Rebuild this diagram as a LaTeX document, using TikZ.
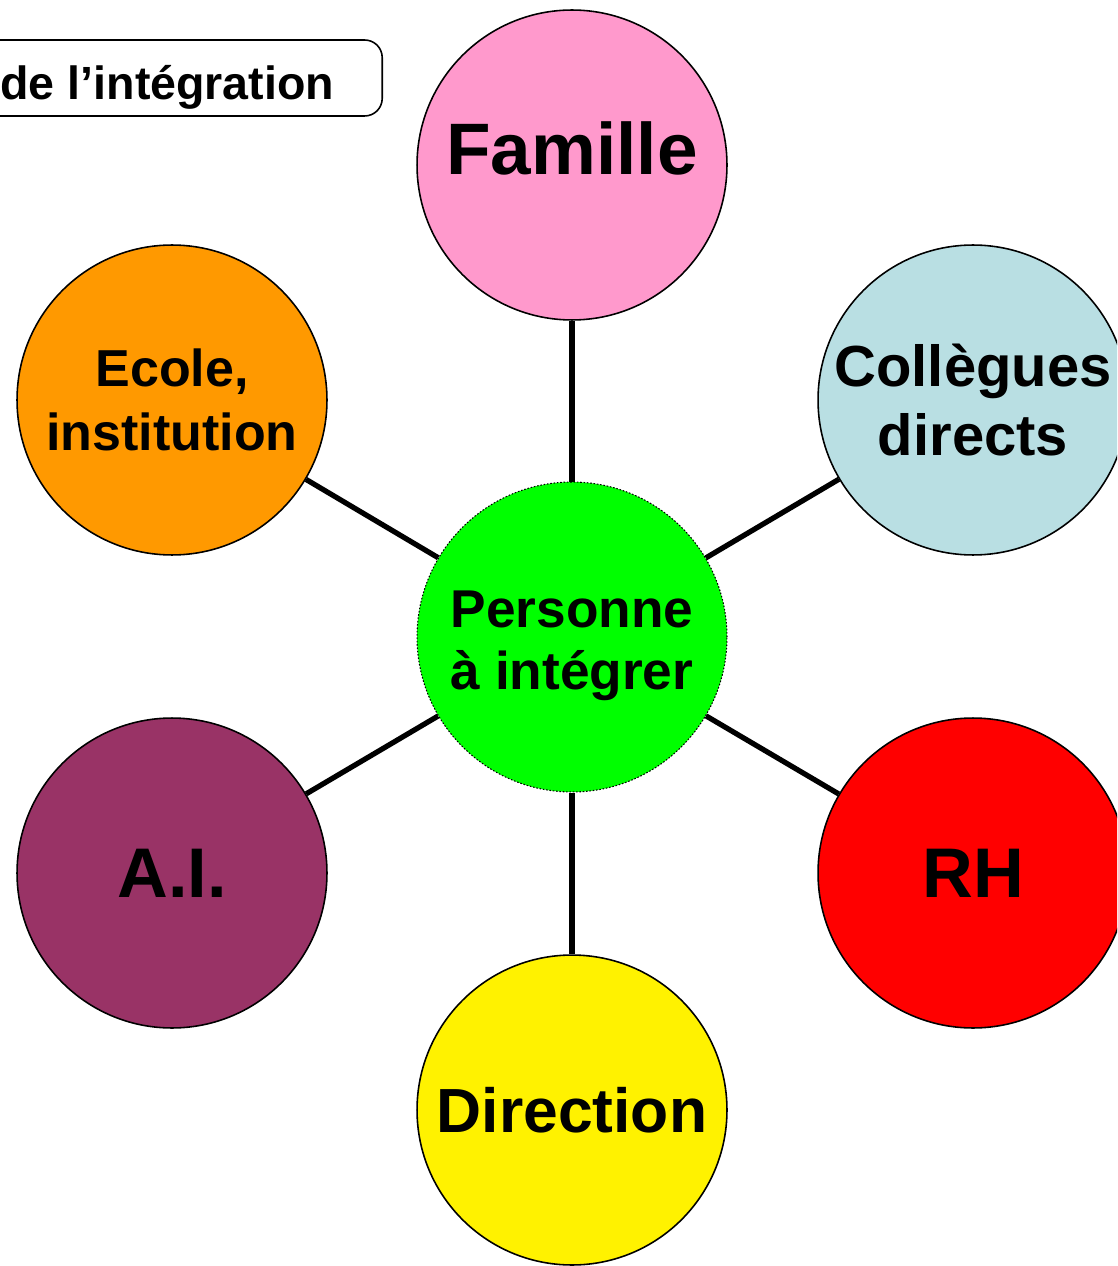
\documentclass[tikz,border=0pt]{standalone}
\usepackage{fontspec}
\setmainfont{Liberation Sans}
\usetikzlibrary{positioning}
\definecolor{rose}{HTML}{FF99CC}
\definecolor{orange}{HTML}{FF9900}
\definecolor{bleuclair}{HTML}{B9DFE3}
\definecolor{prune}{HTML}{993366}
\definecolor{vertvif}{HTML}{00FF00}

\begin{document}
\begin{tikzpicture}[x=0.02cm, y=-0.02cm,
  acteur/.style={circle, draw, line width=0.9pt, minimum size=6.2cm, inner sep=0pt, align=center},
  lien/.style={draw, line width=3pt},
  fs/.style 2 args={font=\bfseries\fontsize{#1}{#2}\selectfont}]
  \useasboundingbox (0,0) rectangle (1117,1266);
  \clip (0,0) rectangle (1117,1266);

  \node[draw, line width=0.9pt, rounded corners=10pt, anchor=east, minimum height=1.52cm,
        inner xsep=0.96cm, text height=25pt, text depth=0pt, fs={26.5}{30}] (titre) at (383,78) {de l’intégration};

  \node[acteur, fill=vertvif, densely dotted, line width=0.6pt, fs={30.3}{35.7},
        text height=66.3pt, text depth=6.2pt] (pers) at (572,637) {Personne\\à intégrer};
  \node[acteur, fill=rose, fs={41.5}{48}, text depth=18.7pt] (fam) at (572,165) {Famille};
  \node[acteur, fill=orange, fs={29.6}{36.3}] (ecole) at (172,400) {Ecole,\\institution};
  \node[acteur, fill=bleuclair, fs={33}{39}] (coll) at (973,400) {Collègues\\directs};
  \node[acteur, fill=prune, fs={40}{46}] (ai) at (172,873) {A.I.};
  \node[acteur, fill=red, fs={40}{46}] (rh) at (973,873) {RH};
  \node[acteur, fill=yellow, fs={35.5}{42}] (dir) at (572,1110) {Direction};

  \path
  (pers) edge[lien] (fam)
         edge[lien] (ecole)
         edge[lien] (coll)
         edge[lien] (ai)
         edge[lien] (rh)
         edge[lien] (dir);
\end{tikzpicture}
\end{document}
